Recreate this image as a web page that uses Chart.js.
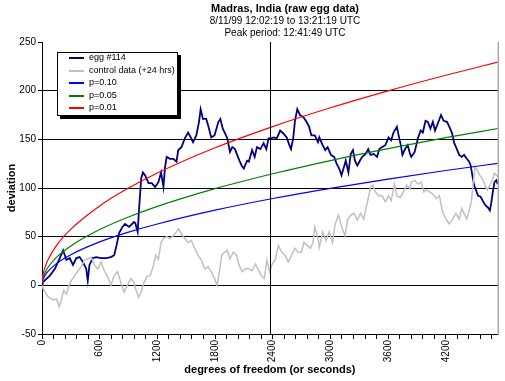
<!DOCTYPE html>
<html>
<head>
<meta charset="utf-8">
<script src="https://cdn.jsdelivr.net/npm/chart.js@4.4.0/dist/chart.umd.min.js"></script>
<style>
  html, body { margin: 0; padding: 0; background: #fff; }
  #wrap { position: relative; width: 505px; height: 381px; font-family: "Liberation Sans", Arial, sans-serif; color: #000; }
  #titles { position: absolute; left: 185px; top: 2px; width: 200px; text-align: center; }
  #titles .main { font-size: 11px; font-weight: bold; line-height: 13px; }
  #titles .sub { font-size: 10px; line-height: 12px; }
  #legend { position: absolute; left: 57px; top: 52px; width: 119px; height: 62px; background: #fff;
            border: 1px solid #000; box-shadow: 3px 3px 0 #000; font-size: 9px; }
  #legend .row { position: absolute; left: 0; width: 119px; height: 12px; line-height: 12px; white-space: nowrap; }
  #legend .label { position: absolute; left: 31px; top: 0; }
</style>
</head>
<body>
<div id="wrap">
  <canvas id="chart" width="505" height="381"></canvas>
  <div id="titles">
    <div class="main">Madras, India (raw egg data)</div>
    <div class="sub">8/11/99 12:02:19 to 13:21:19 UTC</div>
    <div class="sub">Peak period: 12:41:49 UTC</div>
  </div>
  <div id="legend"></div>
</div>
<script>
// egg #114 (seconds, deviation)
const eggSeconds = [0, 7, 82, 134, 185, 219, 254, 288, 322, 357, 391, 425, 460, 476, 494, 528, 563, 614, 666, 717, 751, 775, 803, 837, 864, 906, 957, 970, 995, 1012, 1032, 1050, 1073, 1108, 1142, 1176, 1211, 1238, 1263, 1279, 1297, 1331, 1366, 1399, 1417, 1451, 1485, 1520, 1547, 1571, 1605, 1633, 1650, 1674, 1708, 1732, 1760, 1794, 1835, 1855, 1880, 1914, 1927, 1955, 1979, 2007, 2030, 2058, 2082, 2099, 2133, 2151, 2185, 2212, 2236, 2271, 2305, 2333, 2356, 2384, 2408, 2442, 2477, 2511, 2545, 2573, 2590, 2614, 2631, 2655, 2683, 2717, 2751, 2778, 2802, 2837, 2871, 2884, 2919, 2946, 2971, 3005, 3039, 3064, 3091, 3115, 3142, 3159, 3187, 3211, 3234, 3255, 3280, 3306, 3331, 3365, 3393, 3416, 3450, 3485, 3509, 3537, 3571, 3605, 3632, 3656, 3691, 3714, 3732, 3749, 3776, 3804, 3828, 3841, 3876, 3910, 3938, 3961, 3989, 4013, 4040, 4065, 4088, 4116, 4150, 4178, 4212, 4236, 4263, 4288, 4315, 4339, 4366, 4390, 4418, 4443, 4459, 4476, 4494, 4510, 4535, 4562, 4589, 4613, 4638, 4658, 4672, 4689, 4706, 4726, 4740];
const eggValues = [0, 3, 10, 17, 28, 36, 26, 28, 21, 28, 29, 24, 17, 5, 21, 28, 29, 28, 28, 29, 31, 41, 54, 60, 63, 60, 65, 64, 55, 82, 110, 116, 113, 105, 105, 101, 106, 116, 101, 121, 132, 130, 130, 127, 139, 142, 151, 157, 152, 147, 154, 168, 181, 171, 171, 163, 152, 154, 168, 171, 161, 154, 151, 137, 142, 140, 134, 127, 122, 120, 128, 127, 139, 132, 142, 140, 146, 140, 151, 151, 152, 151, 159, 156, 152, 144, 140, 152, 169, 181, 175, 173, 168, 163, 154, 154, 147, 152, 144, 139, 142, 134, 132, 125, 120, 113, 122, 128, 116, 135, 139, 128, 123, 128, 132, 135, 140, 134, 135, 132, 140, 142, 144, 152, 149, 157, 163, 152, 144, 134, 140, 144, 135, 132, 137, 151, 159, 157, 169, 168, 161, 168, 159, 166, 175, 169, 168, 163, 157, 146, 140, 134, 132, 134, 130, 127, 123, 113, 103, 99, 92, 91, 86, 82, 80, 77, 84, 96, 106, 108, 104];

// control data (+24 hrs)
const controlSeconds = [0, 7, 31, 65, 116, 151, 178, 203, 226, 254, 281, 306, 340, 374, 409, 442, 476, 511, 545, 579, 614, 648, 682, 717, 751, 785, 820, 854, 888, 923, 957, 970, 1005, 1032, 1057, 1091, 1125, 1160, 1183, 1211, 1238, 1263, 1297, 1331, 1366, 1399, 1423, 1451, 1485, 1520, 1554, 1588, 1623, 1657, 1691, 1726, 1760, 1794, 1821, 1845, 1870, 1897, 1927, 1955, 1989, 2024, 2048, 2082, 2117, 2151, 2185, 2220, 2254, 2288, 2312, 2339, 2367, 2390, 2425, 2459, 2493, 2528, 2562, 2596, 2631, 2665, 2699, 2724, 2758, 2792, 2819, 2837, 2871, 2884, 2919, 2953, 2987, 3022, 3049, 3084, 3118, 3152, 3177, 3210, 3245, 3280, 3313, 3347, 3372, 3399, 3416, 3440, 3468, 3502, 3537, 3571, 3605, 3632, 3666, 3691, 3725, 3759, 3794, 3828, 3841, 3876, 3910, 3944, 3972, 3996, 4031, 4065, 4099, 4133, 4167, 4202, 4236, 4270, 4305, 4339, 4366, 4390, 4418, 4443, 4466, 4483, 4504, 4528, 4555, 4579, 4607, 4631, 4658, 4682, 4706, 4726, 4740];
const controlValues = [0, -2, -7, -12, -15, -14, -22, -14, -5, -9, 0, 5, 10, 15, 19, 26, 27, 29, 21, 17, 24, 15, 9, 0, 10, 14, 3, -7, 0, 7, 3, -3, -12, -7, 2, 9, 10, 21, 31, 27, 44, 48, 50, 48, 51, 55, 58, 53, 48, 44, 46, 38, 31, 26, 17, 19, 14, 7, 0, 14, 31, 34, 36, 27, 34, 31, 21, 14, 17, 17, 15, 22, 15, 9, 7, 26, 14, 21, 26, 41, 34, 31, 24, 31, 38, 34, 34, 44, 41, 38, 44, 60, 48, 39, 55, 46, 55, 44, 63, 72, 60, 51, 67, 72, 74, 67, 74, 68, 80, 92, 101, 103, 96, 92, 92, 86, 92, 87, 104, 92, 90, 96, 103, 99, 106, 108, 104, 106, 96, 98, 96, 94, 89, 92, 75, 68, 63, 68, 74, 68, 79, 74, 68, 77, 86, 103, 122, 118, 113, 110, 103, 98, 103, 108, 115, 113, 112];

// probability envelopes
const pSeconds = [1, 5, 15, 30, 60, 150, 300, 600, 900, 1200, 1800, 2400, 3000, 3600, 4200, 4740];
const p10Values = [1.8, 4.1, 7.0, 10.0, 14.1, 22.3, 31.5, 44.6, 54.6, 63.0, 77.2, 89.2, 99.7, 109.2, 118.0, 125.3];
const p05Values = [2.3, 5.2, 9.1, 12.8, 18.1, 28.7, 40.5, 57.3, 70.2, 81.1, 99.3, 114.6, 128.2, 140.4, 151.7, 161.1];
const p01Values = [3.3, 7.4, 12.9, 18.2, 25.8, 40.8, 57.7, 81.6, 99.9, 115.4, 141.3, 163.1, 182.4, 199.8, 215.8, 229.3];

const peakSecond = 2370;
const xLabelValues = [0, 600, 1200, 1800, 2400, 3000, 3600, 4200];
const xMinorStep = 120;
const xMax = 4740;

const font = "'Liberation Sans', Arial, sans-serif";
const toPoints = (xs, ys) => xs.map((x, i) => ({x: x, y: ys[i]}));

// peak-period marker and the grey right edge of the plot
const markers = {
  id: 'markers',
  afterDatasetsDraw(chart) {
    const {ctx, chartArea, scales} = chart;
    const px = Math.round(scales.x.getPixelForValue(peakSecond)) + 0.5;
    ctx.save();
    ctx.lineWidth = 1;
    ctx.strokeStyle = '#000';
    ctx.beginPath();
    ctx.moveTo(px, chartArea.top);
    ctx.lineTo(px, chartArea.bottom);
    ctx.stroke();
    ctx.strokeStyle = '#808080';
    ctx.beginPath();
    ctx.moveTo(chartArea.right + 0.5, chartArea.top);
    ctx.lineTo(chartArea.right + 0.5, chartArea.bottom + 1);
    ctx.stroke();
    ctx.restore();
  }
};

const chart = new Chart(document.getElementById('chart').getContext('2d'), {
  type: 'line',
  data: {
    datasets: [
      { label: 'egg #114', data: toPoints(eggSeconds, eggValues),
        borderColor: '#000080', borderWidth: 1.8, order: 4 },
      { label: 'control data (+24 hrs)', data: toPoints(controlSeconds, controlValues),
        borderColor: '#c0c0c0', borderWidth: 1.5, order: 3 },
      { label: 'p=0.10', data: toPoints(pSeconds, p10Values),
        borderColor: '#0000ff', borderWidth: 1.2, cubicInterpolationMode: 'monotone', order: 2 },
      { label: 'p=0.05', data: toPoints(pSeconds, p05Values),
        borderColor: '#008000', borderWidth: 1.2, cubicInterpolationMode: 'monotone', order: 1 },
      { label: 'p=0.01', data: toPoints(pSeconds, p01Values),
        borderColor: '#ff0000', borderWidth: 1.2, cubicInterpolationMode: 'monotone', order: 0 }
    ]
  },
  options: {
    responsive: false,
    animation: false,
    elements: { point: { radius: 0 }, line: { tension: 0, fill: false } },
    layout: { padding: { top: 42, right: 3, left: 0, bottom: 0 } },
    plugins: { legend: { display: false }, tooltip: { enabled: false }, title: { display: false } },
    scales: {
      x: {
        type: 'linear',
        min: 0,
        max: xMax,
        afterFit(scale) { scale.height = 47; },
        afterBuildTicks(scale) {
          const ticks = [];
          for (let v = 0; v < xMax; v += xMinorStep) ticks.push({value: v});
          scale.ticks = ticks;
        },
        grid: { drawOnChartArea: false, tickLength: 5, tickColor: '#000', color: '#000' },
        border: { display: true, color: '#000', width: 1 },
        ticks: {
          autoSkip: false,
          minRotation: 90,
          maxRotation: 90,
          padding: 1,
          color: '#000',
          font: { family: font, size: 10 },
          callback: (v) => xLabelValues.includes(v) ? String(v) : ''
        },
        title: {
          display: true,
          text: 'degrees of freedom (or seconds)',
          color: '#000',
          font: { family: font, size: 11, weight: 'bold' },
          padding: { top: 0, bottom: 4 }
        }
      },
      y: {
        min: -50,
        max: 250,
        afterFit(scale) { scale.width = 42; },
        grid: {
          color: (c) => (c.tick && c.tick.value >= 0 && c.tick.value <= 200) ? '#000' : 'rgba(0,0,0,0)',
          tickColor: '#000',
          tickLength: 4,
          lineWidth: 1
        },
        border: { display: true, color: '#000', width: 1 },
        ticks: { stepSize: 50, padding: 2, color: '#000', font: { family: font, size: 10 } },
        title: {
          display: true,
          text: 'deviation',
          color: '#000',
          font: { family: font, size: 11, weight: 'bold' },
          padding: { top: 5, bottom: 0 }
        }
      }
    }
  },
  plugins: [markers]
});

// legend box built from the chart's own datasets
const legend = document.getElementById('legend');
chart.data.datasets.forEach((d, i) => {
  const row = document.createElement('div');
  row.className = 'row';
  row.style.top = Math.round(-2 + i * 12.6) + 'px';
  const swatch = document.createElement('div');
  swatch.style.cssText = 'position:absolute;left:11px;top:6px;width:15px;height:2px;background-color:' + d.borderColor + ';';
  const label = document.createElement('span');
  label.className = 'label';
  label.textContent = d.label;
  row.appendChild(swatch);
  row.appendChild(label);
  legend.appendChild(row);
});
</script>
</body>
</html>
